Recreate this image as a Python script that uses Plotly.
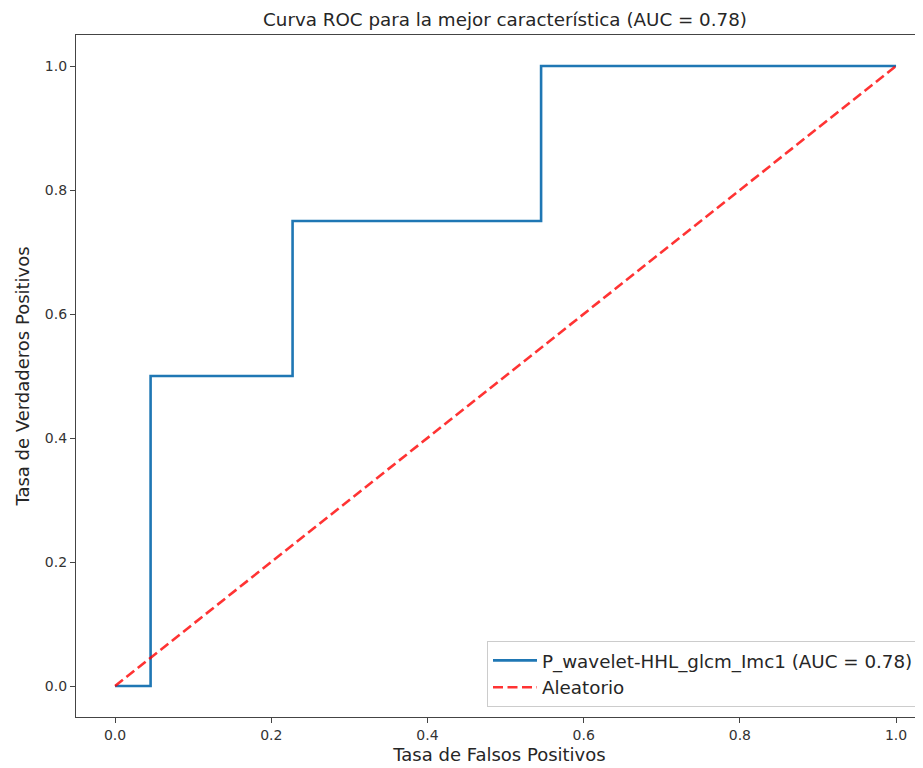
import plotly.graph_objects as go

fpr = [0.0, 0.0455, 0.0455, 0.2273, 0.2273, 0.5455, 0.5455, 1.0]
tpr = [0.0, 0.0, 0.5, 0.5, 0.75, 0.75, 1.0, 1.0]
rand_x = [0.0, 1.0]
rand_y = [0.0, 1.0]
ticks = [0.0, 0.2, 0.4, 0.6, 0.8, 1.0]
tick_labels = ["0.0", "0.2", "0.4", "0.6", "0.8", "1.0"]

FONT = "DejaVu Sans"
TXT = "#262626"

fig = go.Figure()
fig.add_trace(go.Scatter(x=fpr, y=tpr, mode="lines", line=dict(color="#1f77b4", width=2.6),
                         name="P_wavelet-HHL_glcm_Imc1 (AUC = 0.78)"))
fig.add_trace(go.Scatter(x=rand_x, y=rand_y, mode="lines",
                         line=dict(color="rgba(255,0,0,0.8)", width=2.6, dash="10px,4.5px"),
                         name="Aleatorio"))

axis_common = dict(showgrid=False, zeroline=False, showline=True, linecolor="#444444", linewidth=1.3,
                   ticks="outside", ticklen=5, tickwidth=1.2, tickcolor="#444444",
                   tickfont=dict(family=FONT, size=14, color="#333333"),
                   tickvals=ticks, ticktext=tick_labels)

fig.update_layout(
    width=915, height=760,
    margin=dict(l=68, r=0, t=27, b=51),
    plot_bgcolor="white", paper_bgcolor="white",
    font=dict(family=FONT, color=TXT),
    title=dict(text="Curva ROC para la mejor característica (AUC = 0.78)",
               x=(505 - 76) / 847, xref="paper", xanchor="center", y=1 - 12 / 760, yanchor="middle",
               font=dict(family=FONT, size=18.3, color=TXT)),
    xaxis=dict(range=[-0.05, -0.05 + 847 / 781], mirror=True,
               title=dict(text="Tasa de Falsos Positivos", standoff=6,
                          font=dict(family=FONT, size=18, color=TXT)), **axis_common),
    yaxis=dict(range=[-0.05, 1.05], mirror=False,
               title=dict(text="Tasa de Verdaderos Positivos", standoff=10,
                          font=dict(family=FONT, size=18, color=TXT)), **axis_common),
    legend=dict(x=(487 - 76) / 847, xanchor="left", y=(717 - 707) / 682, yanchor="bottom",
                bgcolor="rgba(255,255,255,0.8)", bordercolor="#cccccc", borderwidth=1,
                itemwidth=44,
                font=dict(family=FONT, size=18.3, color=TXT)),
    showlegend=True,
)

fig.write_html("out.html")
